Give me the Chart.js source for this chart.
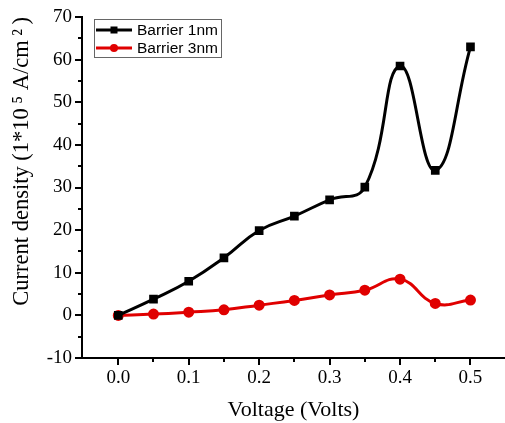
<!DOCTYPE html>
<html>
<head>
<meta charset="utf-8">
<script src="https://cdn.jsdelivr.net/npm/chart.js@4"></script>
<style>
  html, body { margin: 0; padding: 0; background: #fff; }
  #wrap { width: 505px; height: 423px; }
</style>
</head>
<body>
<div id="wrap"><canvas id="grafica1" width="505" height="423"></canvas></div>
<script>
// datos
const voltage = [0.0, 0.05, 0.10, 0.15, 0.20, 0.25, 0.30, 0.35, 0.40, 0.45, 0.50];
const barrier1nm = [0.0, 3.8, 8.0, 13.5, 19.9, 23.3, 27.1, 30.1, 58.5, 34.0, 63.0];
const barrier3nm = [0.0, 0.3, 0.75, 1.3, 2.4, 3.5, 4.8, 5.9, 8.5, 2.8, 3.6];
const xTicks = [0.0, 0.1, 0.2, 0.3, 0.4, 0.5];
const yTicks = [-10, 0, 10, 20, 30, 40, 50, 60, 70];

const serif = '"Liberation Serif", "Times New Roman", serif';

function toPoints(xs, ys) {
    return xs.map((x, i) => ({ x: x, y: ys[i] }));
}

// ticks mayores y menores hacia afuera + leyenda con borde
const tickPlugin = {
    id: 'tickPlugin',
    afterDraw(chart) {
        const ctx = chart.ctx;
        const xs = chart.scales.x, ys = chart.scales.y;
        const area = chart.chartArea;
        ctx.save();
        ctx.strokeStyle = '#000';
        ctx.lineWidth = 2;
        // eje y
        for (let v = -10; v <= 70; v += 5) {
            const py = Math.round(ys.getPixelForValue(v));
            const len = (v % 10 === 0) ? 7 : 4;
            ctx.beginPath();
            ctx.moveTo(area.left - len, py);
            ctx.lineTo(area.left, py);
            ctx.stroke();
        }
        // eje x
        for (let k = 0; k <= 10; k++) {
            const v = k * 0.05;
            const px = Math.round(xs.getPixelForValue(v));
            const len = (k % 2 === 0) ? 7 : 4;
            ctx.beginPath();
            ctx.moveTo(px, area.bottom);
            ctx.lineTo(px, area.bottom + len);
            ctx.stroke();
        }
        // leyenda
        const lx = 94, ly = area.top + 2;
        ctx.fillStyle = '#fff';
        ctx.fillRect(lx, ly, 127, 38);
        ctx.strokeStyle = '#666';
        ctx.lineWidth = 1;
        ctx.strokeRect(lx + 0.5, ly + 0.5, 127, 38);
        ctx.font = '15.5px "Liberation Sans", Arial, sans-serif';
        ctx.textBaseline = 'middle';
        chart.data.datasets.forEach((ds, i) => {
            const cy = ly + 11 + i * 18;
            ctx.strokeStyle = ds.borderColor;
            ctx.lineWidth = 3;
            ctx.beginPath();
            ctx.moveTo(lx + 2, cy);
            ctx.lineTo(lx + 38, cy);
            ctx.stroke();
            ctx.fillStyle = ds.borderColor;
            if (ds.pointStyle === 'rect') {
                ctx.fillRect(lx + 20 - 3.5, cy - 3.5, 7, 7);
            } else {
                ctx.beginPath();
                ctx.arc(lx + 20, cy, 4, 0, Math.PI * 2);
                ctx.fill();
            }
            ctx.fillStyle = '#000';
            ctx.fillText(ds.label, lx + 43, cy + 1);
        });
        ctx.restore();
    }
};

const ctx = document.getElementById('grafica1').getContext('2d');
window.miGrafica = new Chart(ctx, {
    type: 'line',
    data: {
        datasets: [{
            label: 'Barrier 1nm',
            data: toPoints(voltage, barrier1nm),
            borderColor: '#000000',
            backgroundColor: '#000000',
            borderWidth: 3,
            pointStyle: 'rect',
            pointRadius: 4,
            tension: 0.45
        }, {
            label: 'Barrier 3nm',
            data: toPoints(voltage, barrier3nm),
            borderColor: '#e00000',
            backgroundColor: '#e00000',
            borderWidth: 3,
            pointStyle: 'circle',
            pointRadius: 4,
            tension: 0.45
        }]
    },
    options: {
        responsive: false,
        animation: false,
        layout: { autoPadding: false, padding: { top: 17, right: 0, left: 0, bottom: 0 } },
        plugins: {
            legend: { display: false },
            tooltip: { enabled: false }
        },
        scales: {
            x: {
                type: 'linear',
                min: -0.0515,
                max: 0.549,
                afterBuildTicks: s => { s.ticks = xTicks.map(v => ({ value: v })); },
                afterFit: s => { s.height = 65; s.paddingLeft = 0; s.paddingRight = 0; },
                grid: { display: false, drawTicks: false },
                border: { display: true, color: '#000', width: 2 },
                ticks: {
                    color: '#000',
                    padding: 9,
                    font: { family: serif, size: 19 },
                    callback: v => v.toFixed(1)
                },
                title: {
                    display: true,
                    text: 'Voltage (Volts)',
                    color: '#000',
                    font: { family: serif, size: 22 },
                    padding: { top: 0, bottom: 0 }
                }
            },
            y: {
                min: -10,
                max: 70,
                afterBuildTicks: s => { s.ticks = yTicks.map(v => ({ value: v })); },
                afterFit: s => { s.width = 82; s.paddingTop = 0; s.paddingBottom = 0; },
                grid: { display: false, drawTicks: false },
                border: { display: true, color: '#000', width: 2 },
                ticks: {
                    color: '#000',
                    padding: 10,
                    font: { family: serif, size: 19 }
                },
                title: {
                    display: true,
                    align: 'end',
                    text: 'Current density (1*10\u2009\u2075 A/cm\u2009\u00B2\u2009)',
                    color: '#000',
                    font: { family: serif, size: 22.5 },
                    padding: { top: 9, bottom: 0 }
                }
            }
        }
    },
    plugins: [tickPlugin]
});
</script>
</body>
</html>
